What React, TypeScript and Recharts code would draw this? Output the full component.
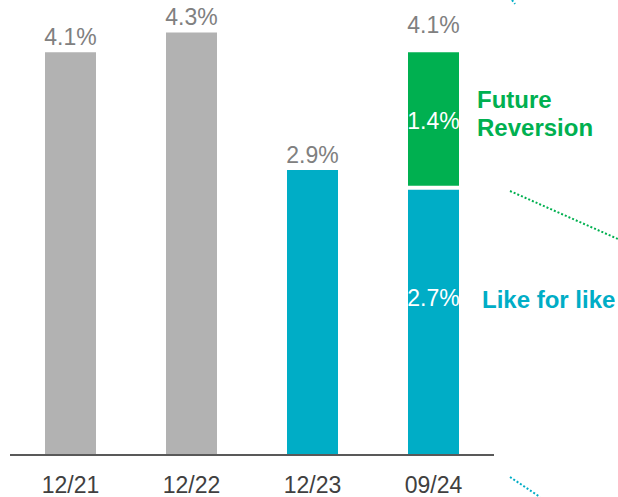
import React from 'react';
import { BarChart, Bar, XAxis, YAxis, Cell, LabelList, Rectangle } from 'recharts';

const periods = ['12/21', '12/22', '12/23', '09/24'];
const likeForLike = [4.1, 4.3, 2.9, 2.7];
const futureReversion = [0, 0, 0, 1.4];
const totals = [4.1, 4.3, 2.9, 4.1];
const baseColors = ['#b2b2b2', '#b2b2b2', '#00adc6', '#00adc6'];

const GREY_TEXT = '#808080';
const TEAL = '#00adc6';
const GREEN = '#00b050';
const FONT = '"Liberation Sans", Arial, sans-serif';

const data = periods.map((p, i) => ({
  period: p,
  base: likeForLike[i],
  reversion: futureReversion[i],
  total: totals[i],
}));

const fmt = (v: number) => `${v.toFixed(1)}%`;

const BaseLabel = (props: any) => {
  const { x, y, width, height, index } = props;
  const cx = x + width / 2;
  if (index < 3) {
    return (
      <text x={cx} y={y - 7} textAnchor="middle" fill={GREY_TEXT} fontSize={23} fontFamily={FONT}>
        {fmt(likeForLike[index])}
      </text>
    );
  }
  return (
    <g>
      <text x={cx} y={y + height * 0.44} textAnchor="middle" fill="#fff" fontSize={23} fontFamily={FONT}>
        {fmt(likeForLike[index])}
      </text>
      <text x={x + width + 23} y={y + height * 0.44 + 2} fill={TEAL} fontSize={24} fontWeight="bold" fontFamily={FONT}>
        Like for like
      </text>
    </g>
  );
};

const ReversionLabel = (props: any) => {
  const { x, y, width, height, index } = props;
  if (!futureReversion[index]) return null;
  const cx = x + width / 2;
  return (
    <g>
      <text x={cx} y={y - 19} textAnchor="middle" fill={GREY_TEXT} fontSize={23} fontFamily={FONT}>
        {fmt(totals[index])}
      </text>
      <text x={cx} y={y + (height - 4) / 2 + 10} textAnchor="middle" fill="#fff" fontSize={23} fontFamily={FONT}>
        {fmt(futureReversion[index])}
      </text>
      <text x={x + width + 18} y={y + 56} fill={GREEN} fontSize={24} fontWeight="bold" fontFamily={FONT}>
        Future
      </text>
      <text x={x + width + 18} y={y + 84} fill={GREEN} fontSize={24} fontWeight="bold" fontFamily={FONT}>
        Reversion
      </text>
    </g>
  );
};

// leave a thin white gap between the two stacked segments
const GapShape = (props: any) => {
  const { height } = props;
  if (!height) return null;
  return <Rectangle {...props} height={Math.max(height - 4, 0)} />;
};

export default function App() {
  return (
    <div style={{ position: 'absolute', left: 0, top: 0, width: 618, height: 497, background: '#fff' }}>
      <BarChart
        width={618}
        height={497}
        data={data}
        margin={{ top: 3, right: 124, bottom: 0, left: 10 }}
        barCategoryGap={35}
      >
        <XAxis
          dataKey="period"
          height={42}
          axisLine={{ stroke: '#595959', strokeWidth: 2 }}
          tickLine={false}
          tickMargin={16}
          tick={{ fill: '#404040', fontSize: 23, fontFamily: FONT }}
          interval={0}
        />
        <YAxis hide domain={[0, 4.6]} />
        <Bar dataKey="base" stackId="a" isAnimationActive={false}>
          {data.map((d, i) => (
            <Cell key={d.period} fill={baseColors[i]} />
          ))}
          <LabelList dataKey="base" content={BaseLabel} />
        </Bar>
        <Bar dataKey="reversion" stackId="a" fill={GREEN} shape={GapShape} isAnimationActive={false}>
          <LabelList dataKey="reversion" content={ReversionLabel} />
        </Bar>
      </BarChart>
      <svg width={618} height={497} style={{ position: 'absolute', left: 0, top: 0, pointerEvents: 'none' }}>
        <line x1={512} y1={0} x2={515} y2={4} stroke={TEAL} strokeWidth={2} strokeDasharray="2 2" />
        <line x1={510} y1={191} x2={618} y2={239} stroke={GREEN} strokeWidth={2} strokeDasharray="2 2" />
        <line x1={510} y1={477} x2={540} y2={497} stroke={TEAL} strokeWidth={2} strokeDasharray="2 2" />
      </svg>
    </div>
  );
}
